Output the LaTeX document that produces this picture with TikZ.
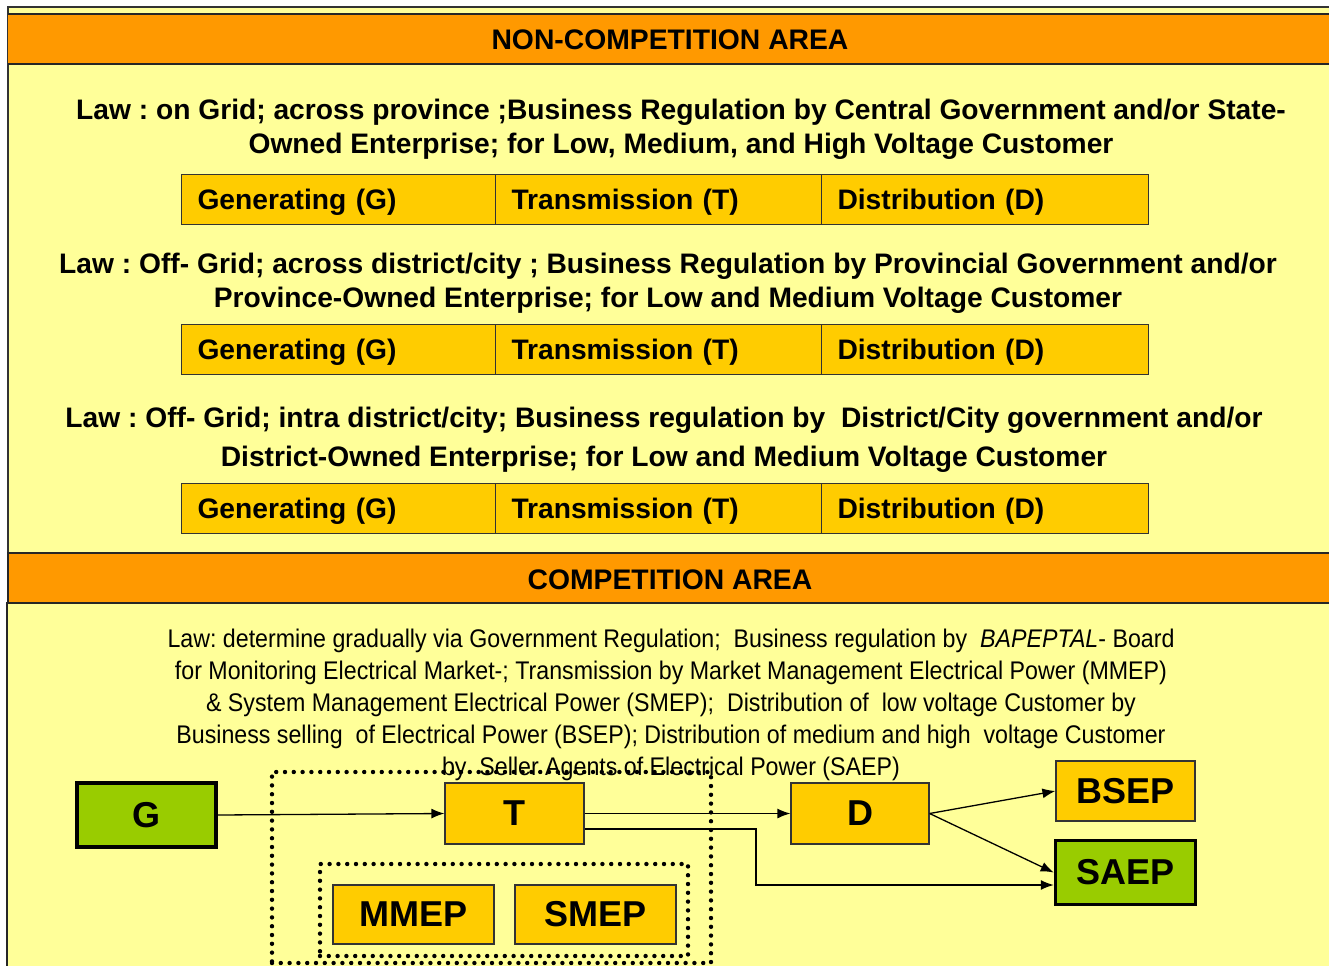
\documentclass[tikz,border=0pt]{standalone}
\usepackage{fontspec}
\setmainfont{Liberation Sans}
\newfontfamily\narrowfont[FakeStretch=0.91]{Liberation Sans}
\usetikzlibrary{arrows.meta,calc}
\definecolor{bandorange}{HTML}{FF9900}
\definecolor{paleyellow}{HTML}{FFFF99}
\definecolor{boxgold}{HTML}{FFCC00}
\definecolor{boxgreen}{HTML}{99CC00}
\frenchspacing
\tikzset{
  bandtext/.style={font=\fontsize{28.3}{34}\selectfont\bfseries, inner sep=0pt},
  lawtext/.style={font=\fontsize{28.2}{34}\selectfont\bfseries, align=center, inner sep=0pt},
  comptext/.style={font=\narrowfont\fontsize{25.5}{32}\selectfont, align=center, inner sep=0pt},
  cell/.style={draw=black!80, line width=1pt, fill=boxgold, text width=282pt, inner xsep=16pt,
    align=left, minimum height=50pt, text height=24pt, text depth=3.5pt, inner ysep=0pt,
    anchor=north west, font=\fontsize{28.2}{34}\selectfont\bfseries},
  goldbox/.style={draw=black!80, line width=1.2pt, fill=boxgold, font=\fontsize{36}{40}\selectfont\bfseries, inner sep=0pt, text height=24pt, text depth=-6.5pt},
  greenbox/.style={draw=black, line width=3.5pt, fill=boxgreen, font=\fontsize{36}{40}\selectfont\bfseries, inner sep=0pt, text height=24pt, text depth=-4.5pt},
  dotbox/.style={draw=black, line width=4.4pt, line cap=round, dash pattern=on 0pt off 8.8pt, inner sep=0pt},
  arr/.style={draw=black, line width=1.3pt, -{Latex[length=13pt,width=10pt]}},
}
\begin{document}
\begin{tikzpicture}[x=1pt,y=-1pt]
\useasboundingbox (0,0) rectangle (1329,966);
\fill[white] (0,0) rectangle (1329,966);
% upper panel
\fill[paleyellow] (8,7) rectangle (1329,553);
\draw[line width=1.3pt, black!80] (1329,7) -- (8,7) -- (8,553);
\fill[bandorange] (8,14) rectangle (1329,64);
\draw[line width=1.3pt, black!85] (8,14) -- (1329,14) (8,64) -- (1329,64);
\node[bandtext] (h1) at (670,39.5) {NON-COMPETITION AREA};
% law 1
\node[lawtext] (law1) at (681,129) {Law : on Grid; across province ;Business Regulation by Central Government and/or State-\\Owned Enterprise; for Low, Medium, and High Voltage Customer};
\node[cell] (g1) at (181,174) {Generating (G)};
\node[cell, text width=294pt] (t1) at (495,174) {Transmission (T)};
\node[cell, text width=295pt] (d1) at (821,174) {Distribution (D)};
% law 2
\node[lawtext] (law2) at (668,283) {Law : Off- Grid; across district/city ; Business Regulation by Provincial Government and/or\\Province-Owned Enterprise; for Low and Medium Voltage Customer};
\node[cell] (g2) at (181,324) {Generating (G)};
\node[cell, text width=294pt] (t2) at (495,324) {Transmission (T)};
\node[cell, text width=295pt] (d2) at (821,324) {Distribution (D)};
% law 3
\node[lawtext, font=\fontsize{28.2}{39}\selectfont\bfseries] (law3) at (664,439.5) {Law : Off- Grid; intra district/city; Business regulation by\ \ District/City government and/or\\District-Owned Enterprise; for Low and Medium Voltage Customer};
\node[cell] (g3) at (181,483) {Generating (G)};
\node[cell, text width=294pt] (t3) at (495,483) {Transmission (T)};
\node[cell, text width=295pt] (d3) at (821,483) {Distribution (D)};
% lower panel
\fill[paleyellow] (7,603) rectangle (1329,966);
\fill[bandorange] (8,553) rectangle (1329,603);
\draw[line width=1.3pt, black!85] (8,603) -- (8,553) -- (1329,553);
\draw[line width=1.3pt, black!85] (1329,603) -- (7,603) -- (7,966);
\node[bandtext] (h2) at (670,579.5) {COMPETITION AREA};
\node[comptext] (law4) at (671,704.5) {Law: determine gradually via Government Regulation;\ \ Business regulation by\ \ \textit{BAPEPTAL}- Board\\
for Monitoring Electrical Market-; Transmission by Market Management Electrical Power (MMEP)\\
\& System Management Electrical Power (SMEP);\ \ Distribution of\ \ low voltage Customer by\\
Business selling\ \ of Electrical Power (BSEP); Distribution of medium and high\ \ voltage Customer\\
by\ \ Seller Agents of Electrical Power (SAEP)};
% dotted groups
\node[dotbox, minimum width=439pt, minimum height=191pt] (outerdot) at (491.5,867.5) {};
\node[dotbox, minimum width=368pt, minimum height=92pt] (innerdot) at (504,910) {};
% boxes
\node[greenbox, minimum width=139pt, minimum height=64pt] (G) at (146.5,815) {G};
\node[goldbox, minimum width=139pt, minimum height=61pt] (T) at (514.5,813.5) {T};
\node[goldbox, minimum width=138pt, minimum height=61pt] (D) at (860,813.5) {D};
\node[goldbox, minimum width=139pt, minimum height=60pt] (BSEP) at (1125.5,791) {BSEP};
\node[greenbox, minimum width=140pt, minimum height=64pt] (SAEP) at (1125.5,872.5) {SAEP};
\node[goldbox, minimum width=161pt, minimum height=59pt] (MMEP) at (413.5,914.5) {MMEP};
\node[goldbox, minimum width=161pt, minimum height=59pt] (SMEP) at (595.5,914.5) {SMEP};
% connectors
\coordinate (bend) at (756,885);
\draw[arr] (G.east) -- (T.west);
\draw[arr] (T.east) -- (D.west);
\draw[arr] ([yshift=-15.5pt]T.east) -| (bend) -- (bend -| SAEP.west);
\draw[arr] (D.east) -- (BSEP.west);
\draw[arr] (D.east) -- (SAEP.west);
\end{tikzpicture}
\end{document}
